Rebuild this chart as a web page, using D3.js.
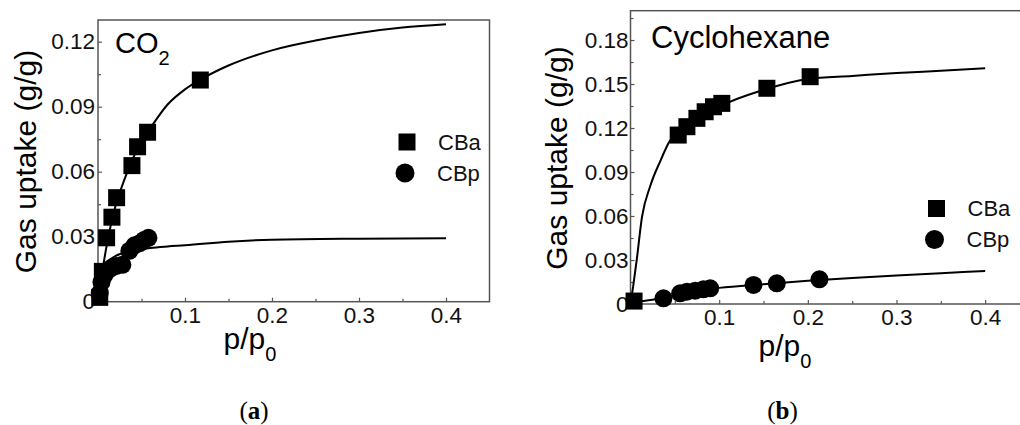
<!DOCTYPE html>
<html>
<head>
  <meta charset="utf-8">
  <title>Gas uptake isotherms</title>
  <script src="https://d3js.org/d3.v7.min.js"></script>
  <style>
    body { margin: 0; background: #fff; }
    svg { font-family: "Liberation Sans", Arial, sans-serif; }
    .axis .domain { stroke: none; }
    .axis line { stroke: #555; stroke-width: 1.2; }
    .axis text { fill: #111; font-size: 22.5px; }
  </style>
</head>
<body>
  <svg id="chart" width="1020" height="425"></svg>

  <script>
    // ---- data ----
    const xTicks = [0.1, 0.2, 0.3, 0.4];
    const xMinorTicks = [0.05, 0.15, 0.25, 0.35];

    // panel (a): CO2
    const yTicksA = [0, 0.03, 0.06, 0.09, 0.12];
    const yMinorA = [0.015, 0.045, 0.075, 0.105];
    const co2CBaX = [0.002, 0.005, 0.0099, 0.016, 0.0214, 0.039, 0.0455, 0.057, 0.1176];
    const co2CBaY = [0.002, 0.014, 0.0295, 0.039, 0.048, 0.0628, 0.0715, 0.0782, 0.1023];
    const co2CBpX = [0.002, 0.004, 0.007, 0.010, 0.015, 0.021, 0.028, 0.036, 0.042, 0.048, 0.053, 0.058];
    const co2CBpY = [0.004, 0.009, 0.012, 0.014, 0.0155, 0.0165, 0.017, 0.0235, 0.026, 0.027, 0.0285, 0.0295];
    const co2FitAX = [0, 0.005, 0.01, 0.02, 0.03, 0.04, 0.05, 0.06, 0.08, 0.1, 0.12, 0.15, 0.2, 0.25, 0.3, 0.35, 0.4];
    const co2FitAY = [0, 0.014, 0.026, 0.044, 0.056, 0.066, 0.074, 0.080, 0.091, 0.098, 0.103, 0.109, 0.116, 0.1205, 0.124, 0.1265, 0.128];
    const co2FitPX = [0, 0.002, 0.005, 0.01, 0.02, 0.04, 0.06, 0.08, 0.1, 0.15, 0.2, 0.3, 0.4];
    const co2FitPY = [0, 0.008, 0.014, 0.018, 0.021, 0.0235, 0.0248, 0.0255, 0.026, 0.0277, 0.0286, 0.0291, 0.0293];

    // panel (b): cyclohexane
    const yTicksB = [0, 0.03, 0.06, 0.09, 0.12, 0.15, 0.18];
    const yMinorB = [0.015, 0.045, 0.075, 0.105, 0.135, 0.165, 0.195];
    const cyCBaX = [0.004, 0.0538, 0.0636, 0.0749, 0.0842, 0.0936, 0.103, 0.1538, 0.2026];
    const cyCBaY = [0.002, 0.1152, 0.1209, 0.1266, 0.1311, 0.1345, 0.1368, 0.1471, 0.155];
    const cyCBpX = [0.0372, 0.056, 0.0636, 0.073, 0.0823, 0.0899, 0.1387, 0.165, 0.2131];
    const cyCBpY = [0.0039, 0.0073, 0.0084, 0.0091, 0.010, 0.0107, 0.013, 0.0141, 0.0168];
    const cyFitAX = [0, 0.003, 0.007, 0.013, 0.022, 0.034, 0.045, 0.055, 0.07, 0.1, 0.15, 0.2, 0.25, 0.3, 0.35, 0.4];
    const cyFitAY = [0, 0.012, 0.030, 0.0595, 0.080, 0.098, 0.1118, 0.116, 0.123, 0.1345, 0.146, 0.1535, 0.1555, 0.1575, 0.159, 0.1607];
    const cyFitPX = [0, 0.01, 0.02, 0.04, 0.06, 0.08, 0.1, 0.15, 0.2, 0.25, 0.3, 0.35, 0.4];
    const cyFitPY = [0.001, 0.0015, 0.0025, 0.0045, 0.0072, 0.0095, 0.011, 0.0135, 0.0158, 0.0178, 0.0195, 0.021, 0.0225];

    const svg = d3.select("svg#chart");

    function drawPanel(p) {
      const g = svg.append("g");
      const x = d3.scaleLinear().domain([0, 0.45]).range(p.xRange);
      const y = d3.scaleLinear().domain(p.yDomain).range(p.yRange);

      // minor ticks first, no labels
      g.append("g").attr("class", "axis")
        .attr("transform", `translate(0,${p.yRange[0]})`)
        .call(d3.axisBottom(x).tickValues(xMinorTicks).tickSizeInner(-3).tickSizeOuter(0).tickFormat(""));
      g.append("g").attr("class", "axis")
        .attr("transform", `translate(${p.xRange[0]},0)`)
        .call(d3.axisLeft(y).tickValues(p.yMinor).tickSizeInner(-3).tickSizeOuter(0).tickFormat(""));

      g.append("g").attr("class", "axis")
        .attr("transform", `translate(0,${p.yRange[0]})`)
        .call(d3.axisBottom(x).tickValues(xTicks).tickSizeInner(-4).tickSizeOuter(0).tickPadding(5)
          .tickFormat(d3.format(".1f")));
      g.append("g").attr("class", "axis")
        .attr("transform", `translate(${p.xRange[0]},0)`)
        .call(d3.axisLeft(y).tickValues(p.yTicks).tickSizeInner(-4).tickSizeOuter(0).tickPadding(p.yPad)
          .tickFormat(d => d === 0 ? "0" : d3.format(".2f")(d)));

      // frame
      g.append("rect")
        .attr("x", p.xRange[0]).attr("y", p.yRange[1])
        .attr("width", p.xRange[1] - p.xRange[0]).attr("height", p.yRange[0] - p.yRange[1])
        .attr("fill", "none").attr("stroke", "#555").attr("stroke-width", 1.5);

      const line = d3.line().x(d => x(d[0])).y(d => y(d[1])).curve(d3.curveMonotoneX);
      [[p.fitAX, p.fitAY], [p.fitPX, p.fitPY]].forEach(([xs, ys]) => {
        g.append("path").datum(xs.map((v, i) => [v, ys[i]]))
          .attr("d", line).attr("fill", "none").attr("stroke", "#000").attr("stroke-width", 2);
      });

      g.selectAll("circle.pt").data(p.cbpX.map((v, i) => [v, p.cbpY[i]]))
        .join("circle").attr("class", "pt")
        .attr("cx", d => x(d[0])).attr("cy", d => y(d[1])).attr("r", 9).attr("fill", "#000");
      g.selectAll("rect.pt").data(p.cbaX.map((v, i) => [v, p.cbaY[i]]))
        .join("rect").attr("class", "pt")
        .attr("x", d => x(d[0]) - 8.5).attr("y", d => y(d[1]) - 8.5)
        .attr("width", 17).attr("height", 17).attr("fill", "#000");

      // legend
      const lg = g.append("g").attr("transform", `translate(${p.legend[0]},${p.legend[1]})`);
      lg.append("rect").attr("x", -8.5).attr("y", -8.5).attr("width", 17).attr("height", 17).attr("fill", "#000");
      lg.append("circle").attr("cx", -2).attr("cy", 31).attr("r", 9.5).attr("fill", "#000");
      lg.append("text").attr("x", 31).attr("y", 0).attr("dy", "0.36em").attr("font-size", 22).attr("fill", "#111").text("CBa");
      lg.append("text").attr("x", 30).attr("y", 31).attr("dy", "0.36em").attr("font-size", 22).attr("fill", "#111").text("CBp");

      // axis titles
      svg.append("text")
        .attr("transform", `translate(${p.yTitle[0]},${p.yTitle[1]}) rotate(-90)`)
        .attr("text-anchor", "middle").attr("font-size", 30).attr("fill", "#000")
        .text("Gas uptake (g/g)");
      const xt = svg.append("text").attr("x", p.xTitle[0]).attr("y", p.xTitle[1])
        .attr("text-anchor", "middle").attr("font-size", 30).attr("fill", "#000");
      xt.append("tspan").text("p/p");
      xt.append("tspan").attr("dy", 12).attr("font-size", 20).text("0");

      // panel label
      const pt = svg.append("text").attr("x", p.title[0]).attr("y", p.title[1])
        .attr("font-size", p.titleSize).attr("fill", "#000");
      pt.append("tspan").text(p.titleMain);
      if (p.titleSub) pt.append("tspan").attr("dy", 12).attr("font-size", 20).text(p.titleSub);

      // caption
      const cap = svg.append("text").attr("x", p.caption[0]).attr("y", p.caption[1])
        .attr("text-anchor", "middle").attr("font-family", "'Liberation Serif', 'DejaVu Serif', serif")
        .attr("font-size", 25).attr("fill", "#000");
      cap.append("tspan").text("(");
      cap.append("tspan").attr("font-weight", "bold").text(p.captionLetter);
      cap.append("tspan").text(")");
    }

    drawPanel({
      xRange: [98, 489.5], yDomain: [0, 0.13], yRange: [301.7, 20],
      yTicks: yTicksA, yMinor: yMinorA, yPad: 3,
      cbaX: co2CBaX, cbaY: co2CBaY, cbpX: co2CBpX, cbpY: co2CBpY,
      fitAX: co2FitAX, fitAY: co2FitAY, fitPX: co2FitPX, fitPY: co2FitPY,
      legend: [407, 142], yTitle: [36, 161.5], xTitle: [250, 349],
      title: [115, 53], titleMain: "CO", titleSub: "2", titleSize: 29,
      caption: [254, 419], captionLetter: "a"
    });

    drawPanel({
      xRange: [630.5, 1029.5], yDomain: [0, 0.2], yRange: [304, 10.7],
      yTicks: yTicksB, yMinor: yMinorB, yPad: 2,
      cbaX: cyCBaX, cbaY: cyCBaY, cbpX: cyCBpX, cbpY: cyCBpY,
      fitAX: cyFitAX, fitAY: cyFitAY, fitPX: cyFitPX, fitPY: cyFitPY,
      legend: [936.5, 208.5], yTitle: [567, 158], xTitle: [785, 355.5],
      title: [651, 48], titleMain: "Cyclohexane", titleSub: null, titleSize: 31,
      caption: [782.5, 419], captionLetter: "b"
    });
  </script>
</body>
</html>
